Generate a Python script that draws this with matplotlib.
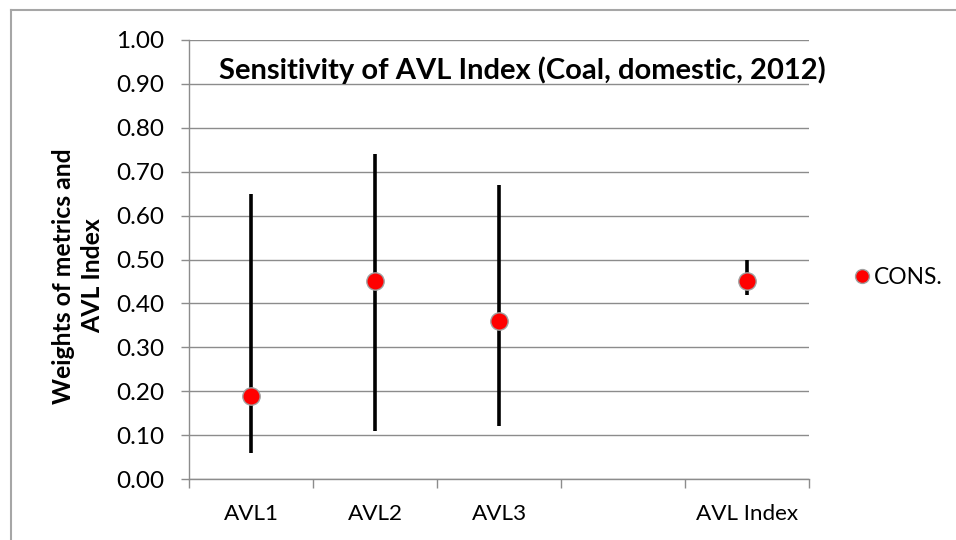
import numpy as np
import matplotlib
matplotlib.use("Agg")
import matplotlib.pyplot as plt
from matplotlib.lines import Line2D

plt.rcParams["font.family"] = ["Lato", "DejaVu Sans"]

# data
categories = ["AVL1", "AVL2", "AVL3", "", "AVL Index"]
cons = [0.19, 0.45, 0.36, np.nan, 0.45]
low = [0.06, 0.11, 0.12, np.nan, 0.42]
high = [0.65, 0.74, 0.67, np.nan, 0.50]
yticks = np.arange(0, 1.01, 0.1)

grid_col = "#8c8c8c"

fig = plt.figure(figsize=(9.56, 5.4), dpi=100)
ax = fig.add_axes([189 / 956, 1 - 479 / 540, 620 / 956, 439 / 540])

x = np.arange(len(categories))
ax.vlines(x, low, high, color="black", lw=2.6, zorder=3)
ax.plot(x, cons, "o", ls="none", ms=12.5, mfc="#ff0000", mec="#a0a0a0",
        mew=1.0, zorder=4, label="CONS.")

ax.set_xlim(-0.5, len(categories) - 0.5)
ax.set_ylim(0, 1.0)
ax.set_yticks(yticks)
ax.set_yticklabels([f"{v:.2f}" for v in yticks])
ax.yaxis.grid(True, color=grid_col, lw=1.0)
ax.set_axisbelow(True)

# category boundaries as major ticks, labels on minor ticks at centres
ax.set_xticks(np.arange(-0.5, len(categories), 1.0))
ax.set_xticklabels([])
ax.set_xticks(x, minor=True)
ax.set_xticklabels(categories, minor=True)
ax.tick_params(axis="x", which="major", length=6.5, color=grid_col, width=1.0)
ax.tick_params(axis="x", which="minor", length=0, pad=18, labelsize=16.2)
ax.tick_params(axis="y", length=6, color=grid_col, width=1.0, pad=12, labelsize=17.5)

for side in ["top", "right"]:
    ax.spines[side].set_visible(False)
for side in ["left", "bottom"]:
    ax.spines[side].set_color(grid_col)
    ax.spines[side].set_linewidth(1.0)

fig.text(522 / 956, 1 - 70 / 540, "Sensitivity of AVL Index (Coal, domestic, 2012)",
         ha="center", va="center", fontsize=21, fontweight="bold")
fig.text(78 / 956, 1 - 276 / 540, "Weights of metrics and\nAVL Index", rotation=90,
         ha="center", va="center", fontsize=17.8, fontweight="bold",
         multialignment="center", linespacing=1.3)

fig.legend(loc="center left", bbox_to_anchor=(856 / 956, 1 - 277 / 540),
           frameon=False, fontsize=16.4, handlelength=0.5, handletextpad=0.3,
           markerscale=0.8, borderaxespad=0, borderpad=0)

# outer chart border (left and top edges visible)
frame_col = "#a6a6a6"
fig.add_artist(Line2D([11 / 956, 11 / 956], [0, 1 - 10 / 540], color=frame_col, lw=1.5))
fig.add_artist(Line2D([11 / 956, 1], [1 - 10 / 540, 1 - 10 / 540], color=frame_col, lw=1.5))

fig.savefig("out.png", dpi=100)
